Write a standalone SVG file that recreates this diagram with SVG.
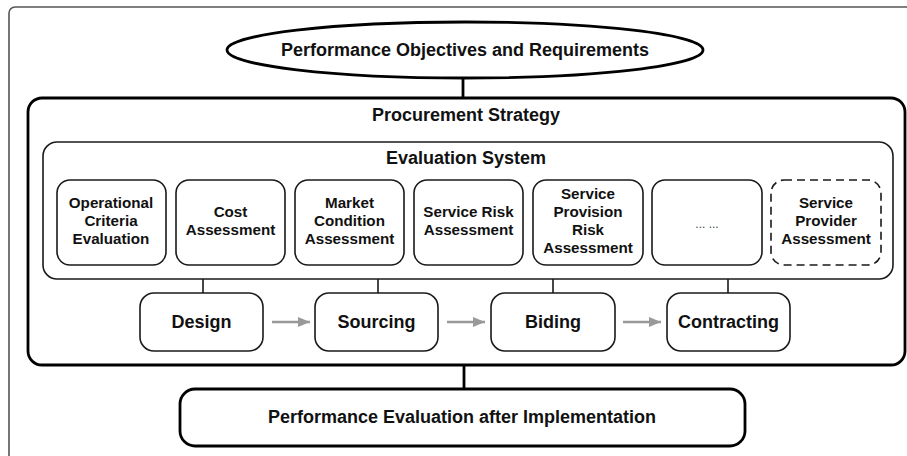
<svg xmlns="http://www.w3.org/2000/svg" width="907" height="456" viewBox="0 0 907 456">
<defs>
<style>
text{font-family:"Liberation Sans",Arial,sans-serif;font-weight:bold;fill:#111;text-anchor:middle}
.t18{font-size:18px}
.t15{font-size:15.2px}
.box{fill:#fff;stroke:#1a1a1a;stroke-width:1.6}
.thick{fill:#fff;stroke:#000;stroke-width:2.8}
.conn{stroke:#1a1a1a;stroke-width:1.6;fill:none}
.tconn{stroke:#000;stroke-width:2.8;fill:none}
.flow{stroke:#999;stroke-width:2.6;fill:none}
</style>
<marker id="ah" viewBox="0 0 12 10" refX="12" refY="5" markerWidth="12" markerHeight="10" markerUnits="userSpaceOnUse" orient="auto">
<path d="M0,0 L12,5 L0,10 Z" fill="#999"/>
</marker>
</defs>
<rect width="907" height="456" fill="#fff"/>
<rect id="frame" x="9" y="7" width="910" height="460" rx="6" fill="#fff" stroke="#555" stroke-width="1.6"/>

<g id="procurement">
<rect class="thick" x="28" y="98" width="877" height="267" rx="14"/>
<text class="t18" x="466" y="121">Procurement Strategy</text>
</g>

<g id="evaluation-system">
<rect class="box" x="43" y="142" width="850" height="137" rx="14"/>
<text class="t18" x="466" y="164">Evaluation System</text>
</g>

<g id="connectors">
<line class="tconn" x1="463" y1="78" x2="463" y2="98"/>
<line class="tconn" x1="464" y1="365" x2="464" y2="389"/>
<line class="conn" x1="203" y1="279" x2="203" y2="293"/>
<line class="conn" x1="378" y1="279" x2="378" y2="293"/>
<line class="conn" x1="553" y1="279" x2="553" y2="293"/>
<line class="conn" x1="728" y1="279" x2="728" y2="293"/>
<line class="flow" x1="272" y1="322" x2="310" y2="322" marker-end="url(#ah)"/>
<line class="flow" x1="447" y1="322" x2="485" y2="322" marker-end="url(#ah)"/>
<line class="flow" x1="623" y1="322" x2="661" y2="322" marker-end="url(#ah)"/>
</g>

<g id="objectives">
<ellipse cx="465" cy="50" rx="238" ry="28" fill="#fff" stroke="#000" stroke-width="2.8"/>
<text class="t18" x="465" y="56">Performance Objectives and Requirements</text>
</g>

<g id="operational">
<rect class="box" x="57" y="180" width="109" height="85" rx="13"/>
<text class="t15" x="111" y="208">Operational</text>
<text class="t15" x="111" y="226">Criteria</text>
<text class="t15" x="111" y="244">Evaluation</text>
</g>
<g id="cost">
<rect class="box" x="176" y="180" width="109" height="85" rx="13"/>
<text class="t15" x="230.5" y="217">Cost</text>
<text class="t15" x="230.5" y="235">Assessment</text>
</g>
<g id="market">
<rect class="box" x="295" y="180" width="109" height="85" rx="13"/>
<text class="t15" x="349.5" y="208">Market</text>
<text class="t15" x="349.5" y="226">Condition</text>
<text class="t15" x="349.5" y="244">Assessment</text>
</g>
<g id="service-risk">
<rect class="box" x="414" y="180" width="109" height="85" rx="13"/>
<text class="t15" x="468.5" y="217">Service Risk</text>
<text class="t15" x="468.5" y="235">Assessment</text>
</g>
<g id="service-provision">
<rect class="box" x="533" y="180" width="110" height="85" rx="13"/>
<text class="t15" x="588" y="199">Service</text>
<text class="t15" x="588" y="217">Provision</text>
<text class="t15" x="588" y="235">Risk</text>
<text class="t15" x="588" y="253">Assessment</text>
</g>
<g id="etc">
<rect class="box" x="652" y="180" width="110" height="85" rx="13"/>
<text x="707" y="228" style="font-size:12px;font-weight:normal;fill:#444">... ...</text>
</g>
<g id="service-provider">
<rect class="box" x="771" y="180" width="110" height="85" rx="13" stroke-dasharray="8 5" stroke="#333"/>
<text class="t15" x="826" y="208">Service</text>
<text class="t15" x="826" y="226">Provider</text>
<text class="t15" x="826" y="244">Assessment</text>
</g>

<g id="design">
<rect class="box" x="140" y="293" width="123" height="58" rx="14"/>
<text class="t18" x="201.5" y="328">Design</text>
</g>
<g id="sourcing">
<rect class="box" x="315" y="293" width="123" height="58" rx="14"/>
<text class="t18" x="376.5" y="328">Sourcing</text>
</g>
<g id="biding">
<rect class="box" x="491" y="293" width="124" height="58" rx="14"/>
<text class="t18" x="553" y="328">Biding</text>
</g>
<g id="contracting">
<rect class="box" x="667" y="293" width="123" height="58" rx="14"/>
<text class="t18" x="728.5" y="328">Contracting</text>
</g>

<g id="performance-evaluation">
<rect class="thick" x="180" y="389" width="565" height="57" rx="15"/>
<text class="t18" x="462" y="423">Performance Evaluation after Implementation</text>
</g>
</svg>
